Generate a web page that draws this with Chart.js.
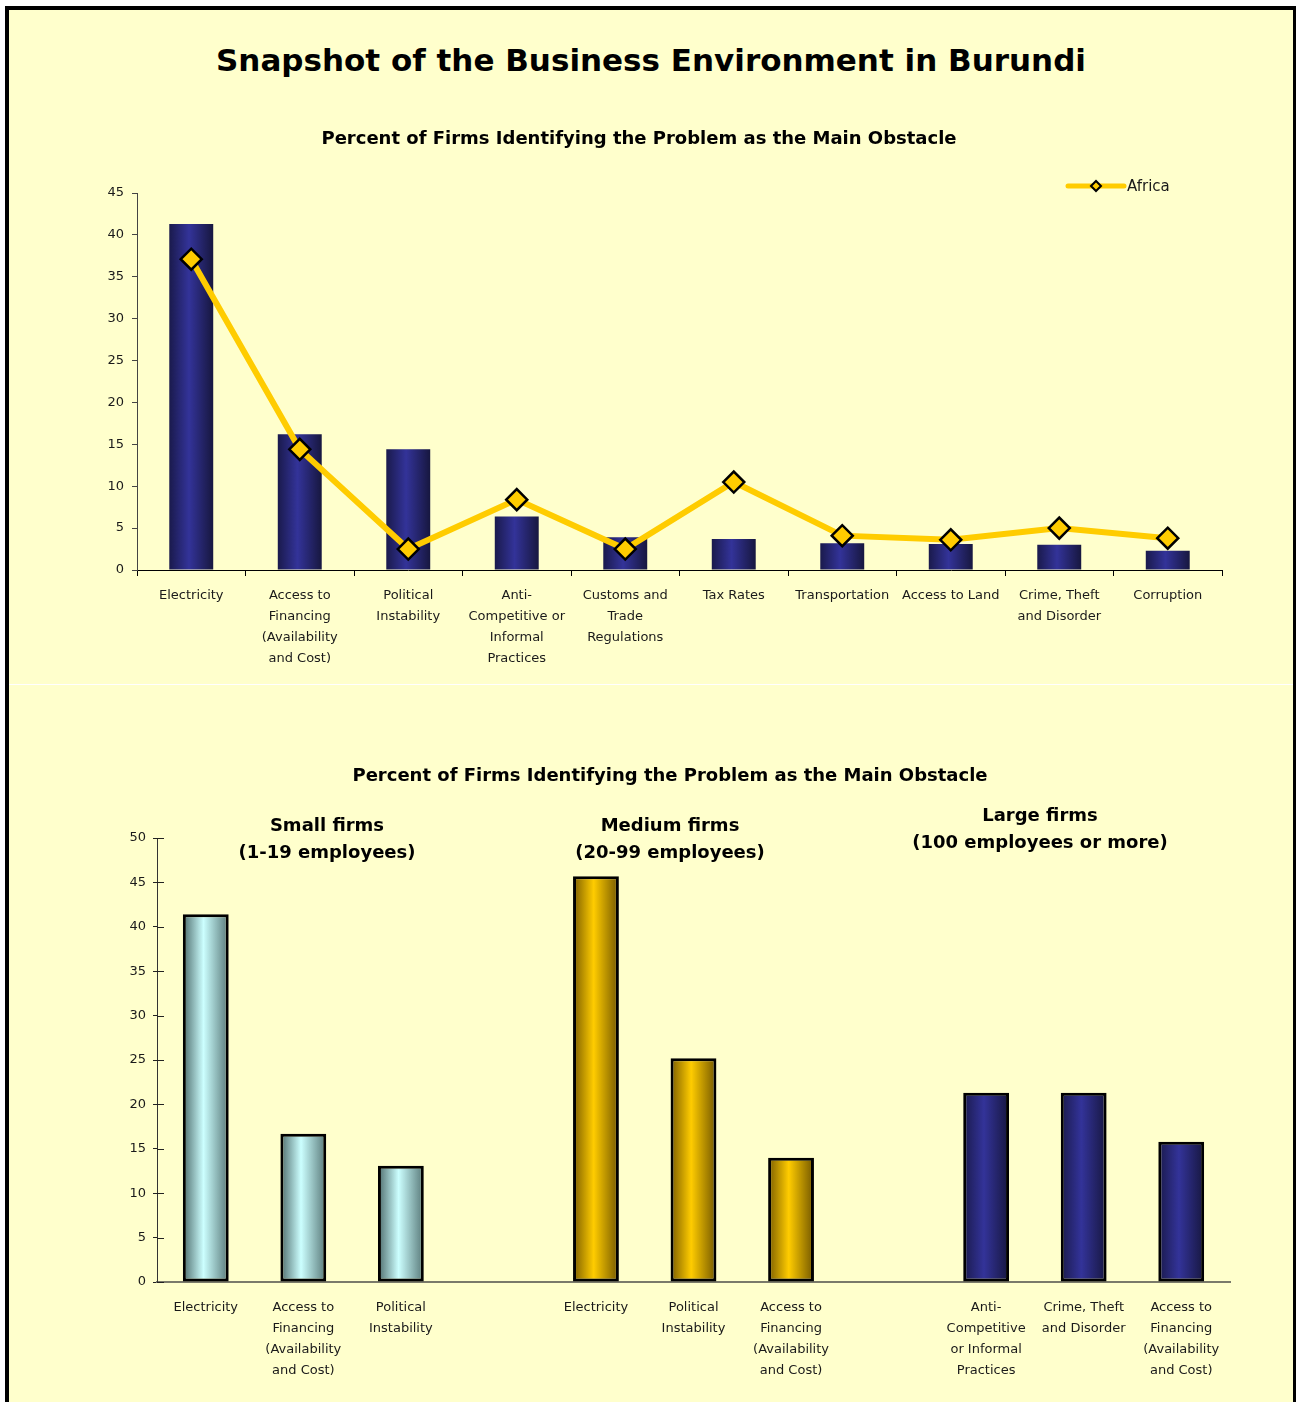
<!DOCTYPE html>
<html><head><meta charset="utf-8">
<script src="https://cdn.jsdelivr.net/npm/chart.js@4.4.1/dist/chart.umd.min.js"></script>
<style>
html,body{margin:0;padding:0;background:#fff;}
body{width:1296px;height:1402px;overflow:hidden;position:relative;font-family:"DejaVu Sans",sans-serif;}
#frame{position:absolute;left:5px;top:6px;width:1284px;height:1400px;border:4px solid #000;border-bottom:none;background:#FFFFCC;overflow:hidden;}
#title{position:absolute;left:0;width:1284px;top:30px;text-align:center;font-weight:bold;font-size:31px;line-height:40px;color:#000;}
#c1wrap{position:absolute;left:0;top:90px;width:1284px;height:584px;}
#sep{position:absolute;left:0;top:674px;width:1284px;height:1px;background:#fff;}
#c2wrap{position:absolute;left:0;top:675px;width:1284px;height:717px;}
.grp{position:absolute;width:320px;text-align:center;font-weight:bold;font-size:18px;line-height:27px;color:#000;}
</style></head>
<body>
<div id="frame">
  <div id="title">Snapshot of the Business Environment in Burundi</div>
  <div id="c1wrap"><canvas id="c1" width="1284" height="584"></canvas></div>
  <div id="sep"></div>
  <div id="c2wrap"><canvas id="c2" width="1284" height="717"></canvas></div>
  <div class="grp" style="left:158px;top:801px;">Small firms<br>(1-19 employees)</div>
  <div class="grp" style="left:501px;top:801px;">Medium firms<br>(20-99 employees)</div>
  <div class="grp" style="left:871px;top:791px;">Large firms<br>(100 employees or more)</div>
</div>
<script>
// ---------- DATA ----------
const chartTitle = "Percent of Firms Identifying the Problem as the Main Obstacle";

const topCategories = [
  ["Electricity"],
  ["Access to", "Financing", "(Availability", "and Cost)"],
  ["Political", "Instability"],
  ["Anti-", "Competitive or", "Informal", "Practices"],
  ["Customs and", "Trade", "Regulations"],
  ["Tax Rates"],
  ["Transportation"],
  ["Access to Land"],
  ["Crime, Theft", "and Disorder"],
  ["Corruption"]
];
const burundiValues = [41.3, 16.2, 14.4, 6.4, 3.9, 3.7, 3.2, 3.1, 3.0, 2.3];
const africaValues  = [37.1, 14.4, 2.5, 8.4, 2.5, 10.5, 4.1, 3.6, 5.0, 3.8];
const topYMax = 45;
const topYStep = 5;

const smallCategories  = [["Electricity"], ["Access to", "Financing", "(Availability", "and Cost)"], ["Political", "Instability"]];
const mediumCategories = [["Electricity"], ["Political", "Instability"], ["Access to", "Financing", "(Availability", "and Cost)"]];
const largeCategories  = [["Anti-", "Competitive", "or Informal", "Practices"], ["Crime, Theft", "and Disorder"], ["Access to", "Financing", "(Availability", "and Cost)"]];
const smallValues  = [41.4, 16.7, 13.1];
const mediumValues = [45.7, 25.2, 14.0];
const largeValues  = [21.3, 21.3, 15.8];
const bottomYMax = 50;
const bottomYStep = 5;

// ---------- HELPERS ----------
const FONT = '"DejaVu Sans", sans-serif';
Chart.defaults.font.family = FONT;
Chart.defaults.color = '#1a1a1a';

function barGradient(edgeL, center, edgeR, barPct) {
  return (c) => {
    const chart = c.chart;
    const xs = chart.scales.x;
    if (!xs || c.type !== 'data' || !chart.chartArea) return center;
    const n = chart.data.labels.length;
    const cx = xs.getPixelForValue(c.dataIndex);
    const half = (xs.width / n) * barPct / 2;
    const g = chart.ctx.createLinearGradient(cx - half, 0, cx + half, 0);
    g.addColorStop(0, edgeL);
    g.addColorStop(0.45, center);
    g.addColorStop(1, edgeR);
    return g;
  };
}

const lineLegend = {
  id: 'lineLegend',
  afterDraw(chart, args, o) {
    const ds = chart.data.datasets[o.datasetIndex];
    const ctx = chart.ctx;
    const y = o.y, x = o.x, L = o.lineLength;
    ctx.save();
    ctx.strokeStyle = ds.borderColor; ctx.lineWidth = 5; ctx.lineCap = 'round';
    ctx.beginPath(); ctx.moveTo(x, y); ctx.lineTo(x + L, y); ctx.stroke();
    const cx = x + L / 2, r = 5;
    ctx.beginPath();
    ctx.moveTo(cx - r, y); ctx.lineTo(cx, y - r); ctx.lineTo(cx + r, y); ctx.lineTo(cx, y + r); ctx.closePath();
    ctx.fillStyle = ds.pointBackgroundColor; ctx.fill();
    ctx.lineWidth = 2; ctx.lineCap = 'butt'; ctx.strokeStyle = '#000'; ctx.stroke();
    ctx.fillStyle = '#1a1a1a'; ctx.font = '15px ' + FONT; ctx.textBaseline = 'middle'; ctx.textAlign = 'left';
    ctx.fillText(ds.label, x + L + 3, y + 1);
    ctx.restore();
  }
};

const innerTicks = {
  id: 'innerTicks',
  afterDraw(chart, args, o) {
    const ys = chart.scales.y, ctx = chart.ctx;
    ctx.save(); ctx.strokeStyle = o.color; ctx.lineWidth = 1;
    ys.ticks.forEach((t, i) => {
      const py = Math.round(ys.getPixelForTick(i)) + 0.5;
      ctx.beginPath(); ctx.moveTo(ys.right, py); ctx.lineTo(ys.right + o.length, py); ctx.stroke();
    });
    ctx.restore();
  }
};

// ---------- TOP CHART ----------
const topBarPct = 0.405;
new Chart(document.getElementById('c1'), {
  data: {
    labels: topCategories,
    datasets: [
      {
        type: 'line', label: 'Africa', data: africaValues, order: 1,
        borderColor: '#FFCC00', borderWidth: 6,
        pointStyle: 'rectRot', pointRadius: 10.5, pointBackgroundColor: '#FFCC00',
        pointBorderColor: '#000', pointBorderWidth: 2.5, tension: 0
      },
      {
        type: 'bar', label: 'Burundi', data: burundiValues, order: 2,
        backgroundColor: barGradient('#1a1a4c', '#333399', '#17173f', topBarPct),
        borderWidth: 0, categoryPercentage: 1, barPercentage: topBarPct
      }
    ]
  },
  options: {
    responsive: false, animation: false, devicePixelRatio: 1,
    layout: { padding: { left: 47, right: 71, top: 0, bottom: 0 } },
    plugins: {
      legend: { display: false },
      tooltip: { enabled: false },
      title: {
        display: true, text: chartTitle, color: '#000',
        font: { size: 18, weight: 'bold', family: FONT, lineHeight: 1.2 },
        padding: { top: 28.2, bottom: 43.2 }
      },
      lineLegend: { datasetIndex: 0, x: 1059, y: 86, lineLength: 56 }
    },
    scales: {
      x: {
        type: 'category', offset: true,
        grid: { offset: true, drawOnChartArea: false, drawTicks: true, tickLength: 6, color: '#000' },
        border: { color: '#000', width: 1 },
        ticks: { maxRotation: 0, autoSkip: false, padding: 9.6, font: { size: 13, lineHeight: 1.6 }, color: '#1a1a1a' },
        afterFit: (s) => { s.height = 114; }
      },
      y: {
        min: 0, max: topYMax,
        grid: { drawOnChartArea: false, drawTicks: true, tickLength: 5, color: '#444' },
        border: { color: '#444', width: 1 },
        ticks: { stepSize: topYStep, padding: 8, font: { size: 13 }, color: '#1a1a1a' },
        afterFit: (s) => { s.width = 81; }
      }
    }
  },
  plugins: [lineLegend]
});

// ---------- BOTTOM CHART ----------
const bottomLabels = [...smallCategories, "", ...mediumCategories, "", ...largeCategories];
const pad = (vals, start) => bottomLabels.map((_, i) => (i >= start && i < start + vals.length) ? vals[i - start] : null);
const botBarPct = 0.47;
const botBarCommon = { borderColor: '#000', borderWidth: 3, borderSkipped: false, categoryPercentage: 1, barPercentage: botBarPct, grouped: false };

new Chart(document.getElementById('c2'), {
  type: 'bar',
  data: {
    labels: bottomLabels,
    datasets: [
      Object.assign({ label: 'Small firms (1-19 employees)', data: pad(smallValues, 0),
        backgroundColor: barGradient('#4d6b6b', '#CCFFFF', '#587878', botBarPct) }, botBarCommon),
      Object.assign({ label: 'Medium firms (20-99 employees)', data: pad(mediumValues, 4),
        backgroundColor: barGradient('#7a5c00', '#FFCC00', '#735700', botBarPct) }, botBarCommon),
      Object.assign({ label: 'Large firms (100 employees or more)', data: pad(largeValues, 8),
        backgroundColor: barGradient('#1a1a4c', '#333399', '#17173f', botBarPct) }, botBarCommon)
    ]
  },
  options: {
    responsive: false, animation: false, devicePixelRatio: 1,
    layout: { padding: { left: 101, right: 63, top: 0, bottom: 0 } },
    plugins: {
      legend: { display: false },
      tooltip: { enabled: false },
      title: {
        display: true, text: chartTitle, color: '#000',
        font: { size: 18, weight: 'bold', family: FONT, lineHeight: 1.2 },
        padding: { top: 80.2, bottom: 51.2 }
      },
      innerTicks: { color: '#222', length: 7 }
    },
    scales: {
      x: {
        offset: true,
        grid: { display: false },
        border: { color: '#7a7a6a', width: 2 },
        ticks: { maxRotation: 0, autoSkip: false, padding: 7.6, font: { size: 13, lineHeight: 1.6 }, color: '#1a1a1a' },
        afterFit: (s) => { s.height = 120; }
      },
      y: {
        min: 0, max: bottomYMax,
        grid: { drawOnChartArea: false, drawTicks: true, tickLength: 4, color: '#222' },
        border: { color: '#333', width: 1 },
        ticks: { stepSize: bottomYStep, padding: 7, font: { size: 13 }, color: '#1a1a1a' },
        afterFit: (s) => { s.width = 47; }
      }
    }
  },
  plugins: [innerTicks]
});
</script>
</body></html>
